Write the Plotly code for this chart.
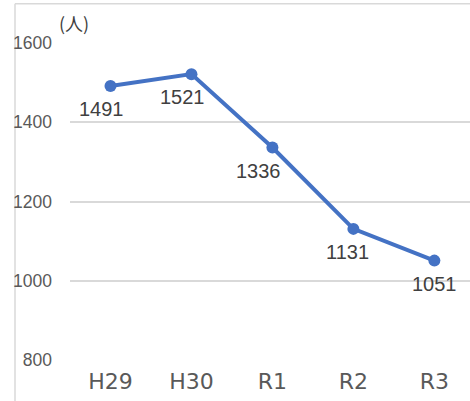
import plotly.graph_objects as go

categories = ["H29", "H30", "R1", "R2", "R3"]
values = [1491, 1521, 1336, 1131, 1051]
y_ticks = [800, 1000, 1200, 1400, 1600]
unit_label = "(人)"

# label offsets (px) for data labels
label_dx = [-9, -9, -14, -6, 0]
label_dy = -23

LINE = "#4472C4"
NUMFONT = "Liberation Sans, Arial, sans-serif"

fig = go.Figure()
fig.add_trace(go.Scatter(
    x=categories, y=values, mode="lines+markers",
    line=dict(color=LINE, width=4),
    marker=dict(color=LINE, size=12),
    cliponaxis=False, hoverinfo="skip",
))

for c, v, dx in zip(categories, values, label_dx):
    fig.add_annotation(x=c, y=v, text=str(v), showarrow=False,
                       xshift=dx, yshift=label_dy, xanchor="center", yanchor="middle",
                       font=dict(family=NUMFONT, size=20, color="#404040"))

fig.add_annotation(xref="paper", yref="paper", x=-0.032, y=1.013, text=unit_label,
                   showarrow=False, xanchor="left", yanchor="bottom",
                   font=dict(family="Noto Sans CJK JP", size=18, color="#404040"))

# outer frame (left and top edges)
fig.add_shape(type="line", xref="paper", yref="paper", x0=-0.1375, x1=-0.1375,
              y0=-0.2, y1=1.12, layer="below", line=dict(color="#d9d9d9", width=1.5))
fig.add_shape(type="line", xref="paper", yref="paper", x0=-0.1375, x1=1.2,
              y0=1.12, y1=1.12, layer="below", line=dict(color="#d9d9d9", width=1.5))

fig.update_layout(
    width=470, height=401,
    margin=dict(l=70, r=0, t=42, b=40),
    paper_bgcolor="white", plot_bgcolor="white",
    showlegend=False,
    xaxis=dict(type="category", range=[-0.5, 4.44], showgrid=False, zeroline=False,
               showline=False, ticks="", ticklabelstandoff=5,
               tickfont=dict(family="DejaVu Sans", size=22, color="#595959")),
    yaxis=dict(range=[798, 1602], tickvals=y_ticks, showgrid=True,
               gridcolor="#d9d9d9", gridwidth=1.5, zeroline=False, showline=False,
               ticks="", ticklabelstandoff=17,
               tickfont=dict(family=NUMFONT, size=17.5, color="#595959")),
)

fig.write_html("out.html", config={"displayModeBar": False},
               post_script="document.body.style.margin='0';")
